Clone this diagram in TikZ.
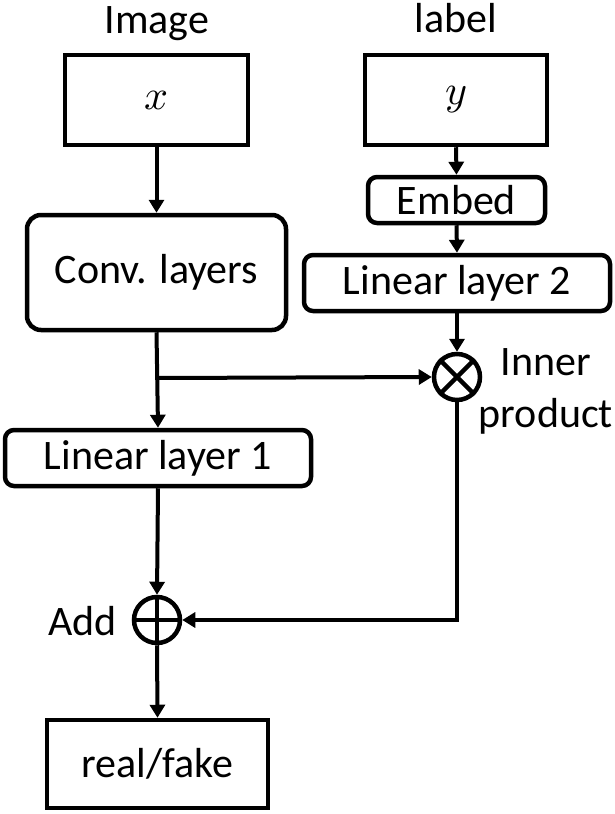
\documentclass[tikz,border=0pt]{standalone}
\usepackage{fontspec}
\usepackage{unicode-math}
\setmainfont{Carlito}
\setmathfont{Latin Modern Math}
\usetikzlibrary{arrows.meta}
\begin{document}
\begin{tikzpicture}[x=1pt,y=-1pt,
  line width=4.5pt,
  every node/.style={font=\fontsize{42}{50}\selectfont, inner sep=0pt},
  sqbox/.style={draw, rectangle},
  rbox/.style={draw, rectangle, rounded corners=9pt},
  opcircle/.style={draw, circle, minimum size=46pt},
  flow/.style={-{Triangle[length=13pt,width=15pt]}, line width=4pt},
  wire/.style={line width=4pt}]
  \useasboundingbox (0,0) rectangle (614,814);

  % column titles
  \node[anchor=base] (imgtitle) at (157,33) {Image};
  \node[anchor=base] (labtitle) at (456,32) {label};

  % inputs
  \node[sqbox, minimum width=183pt, minimum height=90pt] (xin) at (156.5,100) {$x$};
  \node[sqbox, minimum width=182pt, minimum height=90pt] (yin) at (456,100) {$y$};

  % image branch
  \node[rbox, rounded corners=14pt, minimum width=259pt, minimum height=115pt] (conv) at (156.5,272.5) {Conv. layers};
  \node[rbox, minimum width=306pt, minimum height=56pt] (lin1) at (158,458) {Linear layer 1};

  % label branch
  \node[rbox, minimum width=177pt, minimum height=46pt] (embed) at (456.5,200) {Embed};
  \node[rbox, minimum width=306pt, minimum height=56pt] (lin2) at (457,283) {Linear layer 2};

  % operators
  \node[opcircle] (inner) at (457,377) {};
  \draw (inner.north west) -- (inner.south east) (inner.north east) -- (inner.south west);
  \node[anchor=base] (innerlab) at (546,375) {Inner};
  \node[anchor=base] (prodlab) at (546,427) {product};

  \node[opcircle] (add) at (157,620) {};
  \draw (add.north) -- (add.south) (add.west) -- (add.east);
  \node[anchor=base east] (addlab) at (119,635) {Add};

  % output
  \node[sqbox, minimum width=221pt, minimum height=88pt] (out) at (157.5,764) {real/fake};

  % connectors
  \coordinate (split) at (157,378);
  \coordinate (turn) at (457,620);
  \draw[flow] (xin.south) -- (conv.north);
  \draw[flow] (yin.south) -- (embed.north);
  \draw[flow] (embed.south) -- (lin2.north);
  \draw[flow] (lin2.south) -- (inner.north);
  \draw[flow] (conv.south) -- (lin1.north);
  \draw[flow] (split) -- (inner.west);
  \draw[flow] (lin1.south) -- (add.north);
  \draw[flow] (inner.south) -- (turn) -- (add.east);
  \draw[flow] (add.south) -- (out.north);
\end{tikzpicture}
\end{document}
